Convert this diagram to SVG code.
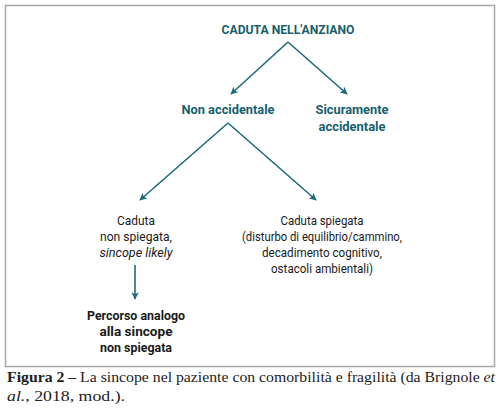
<svg xmlns="http://www.w3.org/2000/svg" width="500" height="415" viewBox="0 0 500 415">
<defs>
<marker id="ah" viewBox="0 0 10 10" refX="9" refY="5" markerWidth="7.5" markerHeight="7.5" orient="auto" markerUnits="userSpaceOnUse">
<path d="M0,0 L10,5 L0,10 L2.5,5 z" fill="#1b6b78"/>
</marker>
<style>
.t{font-family:"Roboto","Liberation Sans",sans-serif;font-size:13.5px;fill:#1a1a1a;text-anchor:middle}
.h{font-family:"Roboto","Liberation Sans",sans-serif;font-size:13.5px;font-weight:bold;fill:#175f6c;text-anchor:middle}
.c{font-family:"Liberation Serif",serif;font-size:14.5px;fill:#222}
.e{stroke:#1b6b78;stroke-width:1.6;fill:none;marker-end:url(#ah)}
</style>
</defs>
<rect x="0" y="0" width="500" height="415" fill="#fff"/>
<rect x="5.5" y="5.5" width="489" height="361" fill="none" stroke="#a8a8a8" stroke-width="1.5"/>
<g id="connectors">
<path class="e" d="M288,42 L231,94"/>
<path class="e" d="M288,42 L347,94"/>
<path class="e" d="M228,123 L140,200"/>
<path class="e" d="M228,123 L316,200"/>
<path class="e" d="M135,265 L135,299"/>
</g>
<g id="n-root"><text class="h" x="288" y="34" textLength="133" lengthAdjust="spacingAndGlyphs">CADUTA NELL'ANZIANO</text></g>
<g id="n-nonacc"><text class="h" x="228" y="114" textLength="93" lengthAdjust="spacingAndGlyphs">Non accidentale</text></g>
<g id="n-sicacc">
<text class="h" x="352" y="114" textLength="73" lengthAdjust="spacingAndGlyphs">Sicuramente</text>
<text class="h" x="352" y="131" textLength="67" lengthAdjust="spacingAndGlyphs">accidentale</text>
</g>
<g id="n-nonspieg">
<text class="t" x="136" y="225" textLength="38" lengthAdjust="spacingAndGlyphs">Caduta</text>
<text class="t" x="136" y="241" textLength="72" lengthAdjust="spacingAndGlyphs">non spiegata,</text>
<text class="t" x="136" y="257" font-style="italic" textLength="73" lengthAdjust="spacingAndGlyphs">sincope likely</text>
</g>
<g id="n-spieg">
<text class="t" x="322" y="225" textLength="83" lengthAdjust="spacingAndGlyphs">Caduta spiegata</text>
<text class="t" x="322" y="241" textLength="160" lengthAdjust="spacingAndGlyphs">(disturbo di equilibrio/cammino,</text>
<text class="t" x="322" y="257" textLength="120" lengthAdjust="spacingAndGlyphs">decadimento cognitivo,</text>
<text class="t" x="322" y="273" textLength="102" lengthAdjust="spacingAndGlyphs">ostacoli ambientali)</text>
</g>
<g id="n-percorso">
<text class="t" x="136" y="320" font-weight="bold" textLength="98" lengthAdjust="spacingAndGlyphs">Percorso analogo</text>
<text class="t" x="136" y="336" font-weight="bold" textLength="73" lengthAdjust="spacingAndGlyphs">alla sincope</text>
<text class="t" x="136" y="352" font-weight="bold" textLength="72" lengthAdjust="spacingAndGlyphs">non spiegata</text>
</g>
<g id="caption">
<text class="c" x="7" y="382" textLength="488" lengthAdjust="spacingAndGlyphs"><tspan font-weight="bold">Figura 2 –</tspan> La sincope nel paziente con comorbilità e fragilità (da Brignole <tspan font-style="italic">et</tspan></text>
<text class="c" x="7" y="401" textLength="118" lengthAdjust="spacingAndGlyphs"><tspan font-style="italic">al.</tspan>, 2018, mod.).</text>
</g>
</svg>
